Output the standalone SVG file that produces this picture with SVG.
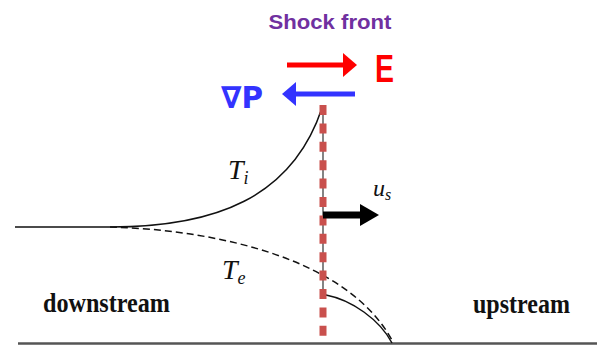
<svg xmlns="http://www.w3.org/2000/svg" width="597" height="345" viewBox="0 0 597 345">
<style>
.lbl{font-family:"Liberation Serif","Times New Roman",serif;font-weight:bold;font-size:27px;fill:#111}
.math{font-family:"Liberation Serif","Times New Roman",serif;font-style:italic;fill:#111}
.curve{fill:none;stroke:#111;stroke-width:1.5}
</style>
<rect width="597" height="345" fill="#fff"/>
<g id="axis">
<line x1="18" y1="343.5" x2="597" y2="343.5" stroke="#555" stroke-width="2.5"/>
</g>
<g id="curves">
<path class="curve" d="M15,227 L110,227 C215,227 292,198 322,108"/>
<path class="curve" d="M110,227 C220,230 350,260 393,342" stroke-dasharray="7 4"/>
<path class="curve" d="M326,295 C352,300 380,320 392,343"/>
<line x1="323" y1="108" x2="323" y2="295" stroke="#333" stroke-width="1.2"/>
</g>
<g id="shock-front">
<line x1="323" y1="105" x2="323" y2="340" stroke="#C9504D" stroke-width="7" stroke-dasharray="10 8.4"/>
<text x="330" y="29" text-anchor="middle" font-family="'Liberation Sans',Arial,sans-serif" font-weight="bold" font-size="20" fill="#7030A0" textLength="123" lengthAdjust="spacingAndGlyphs">Shock front</text>
</g>
<g id="E-field">
<line x1="287" y1="65" x2="345" y2="65" stroke="#FF0000" stroke-width="5"/>
<polygon points="343,53 357,65 343,77" fill="#FF0000"/>
<text x="375" y="82" font-family="'Liberation Sans',Arial,sans-serif" font-weight="bold" font-size="38" fill="#FF0000" textLength="19" lengthAdjust="spacingAndGlyphs">E</text>
</g>
<g id="grad-P">
<line x1="294" y1="94" x2="355" y2="94" stroke="#3333FF" stroke-width="5"/>
<polygon points="296,82 282,94 296,106" fill="#3333FF"/>
<text x="221" y="108" font-family="'DejaVu Sans','Liberation Sans',sans-serif" font-weight="bold" font-size="30" fill="#3333FF" textLength="42" lengthAdjust="spacingAndGlyphs">∇P</text>
</g>
<g id="us">
<line x1="323" y1="215" x2="362" y2="215" stroke="#000" stroke-width="7"/>
<polygon points="360,204 379,215 360,226" fill="#000"/>
<text class="math" x="373" y="196" font-size="24">u<tspan font-size="16" dy="4">s</tspan></text>
</g>
<g id="Ti">
<text class="math" x="228" y="179" font-size="28">T<tspan font-size="18" dy="5">i</tspan></text>
</g>
<g id="Te">
<text class="math" x="222" y="279" font-size="28">T<tspan font-size="18" dy="5">e</tspan></text>
</g>
<g id="downstream"><text class="lbl" x="43" y="312" textLength="127" lengthAdjust="spacingAndGlyphs">downstream</text></g>
<g id="upstream"><text class="lbl" x="473" y="313" textLength="97" lengthAdjust="spacingAndGlyphs">upstream</text></g>
</svg>
